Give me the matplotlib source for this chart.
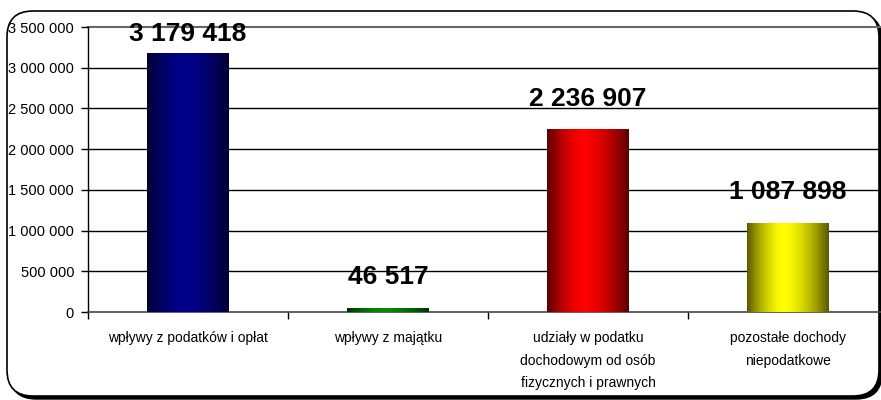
import numpy as np
import matplotlib
matplotlib.use("Agg")
import matplotlib.pyplot as plt
from matplotlib.patches import FancyBboxPatch
from matplotlib.transforms import IdentityTransform

categories = ["wpływy z podatków i opłat",
              "wpływy z majątku",
              "udziały w podatku\ndochodowym od osób\nfizycznych i prawnych",
              "pozostałe dochody\nniepodatkowe"]
values = [3179418, 46517, 2236907, 1087898]
value_labels = ["3 179 418", "46 517", "2 236 907", "1 087 898"]
yticks = [0, 500000, 1000000, 1500000, 2000000, 2500000, 3000000, 3500000]
ytick_labels = ["0", "500 000", "1 000 000", "1 500 000", "2 000 000",
                "2 500 000", "3 000 000", "3 500 000"]
bar_colors = [(0/255, 0/255, 140/255), (0/255, 140/255, 0/255),
              (255/255, 0/255, 0/255), (255/255, 255/255, 0/255)]

plt.rcParams['font.family'] = ['Liberation Sans', 'DejaVu Sans']

W, H = 881, 400
fig = plt.figure(figsize=(W / 100, H / 100), dpi=100)

# Rounded frame with shadow (figure pixel coordinates)
fx0, fy0, fx1, fy1 = 7, 4, 879, 389
r = 26
shadow = FancyBboxPatch((fx0 + 3, fy0 - 3), fx1 - fx0, fy1 - fy0,
                        boxstyle=f"round,pad=0,rounding_size={r}",
                        transform=IdentityTransform(), facecolor="black",
                        edgecolor="black", lw=1, zorder=-3)
frame = FancyBboxPatch((fx0, fy0), fx1 - fx0, fy1 - fy0,
                       boxstyle=f"round,pad=0,rounding_size={r}",
                       transform=IdentityTransform(), facecolor="white",
                       edgecolor="black", lw=1.2, zorder=-2)
fig.patches.extend([shadow, frame])

ax = fig.add_axes([88 / W, 88 / H, 800 / W, 285 / H])
ax.set_facecolor("none")
ax.set_zorder(1)

x = np.arange(len(categories))
bars = ax.bar(x, values, width=0.41, color="none", zorder=3)

# gradient fill for each bar (dark edges, bright centre)
t = np.linspace(0, 1, 200)
peak = 0.45
d = np.where(t < peak, (peak - t) / peak, (t - peak) / (1 - peak))
shade = 0.35 + 0.65 * (1 - d ** 1.6)
for b, c in zip(bars, bar_colors):
    x0, y0 = b.get_x(), b.get_y()
    w, h = b.get_width(), b.get_height()
    img = np.zeros((1, len(t), 3))
    for k in range(3):
        img[0, :, k] = c[k] * shade
    ax.imshow(img, extent=[x0, x0 + w, y0, y0 + h], aspect="auto",
              zorder=3, interpolation="bilinear")
ax.set_xlim(-0.5, 3.5)
ax.set_ylim(0, 3500000)

# gridlines
for yv in yticks[1:-1]:
    ax.axhline(yv, color="black", lw=1, zorder=1)
ax.axhline(yticks[-1], color="#666666", lw=1.5, zorder=1, clip_on=False)

for s in ["top", "right"]:
    ax.spines[s].set_visible(False)
ax.spines["left"].set_color("black")
ax.spines["left"].set_linewidth(1)
ax.spines["bottom"].set_color("#444444")
ax.spines["bottom"].set_linewidth(1.2)

ax.set_yticks(yticks)
ax.set_yticklabels(ytick_labels, fontsize=10.5)
ax.tick_params(axis="y", length=5, width=1, pad=5)

ax.set_xticks(x)
ax.set_xticklabels(categories, fontsize=10, linespacing=1.75, va="top")
ax.tick_params(axis="x", length=0, pad=14)
ax.set_xticks(np.arange(-0.5, 4, 1), minor=True)
ax.tick_params(axis="x", which="minor", length=5, width=1, direction="out")

# value labels
clamp = 3030000
for xi, v, lab in zip(x, values, value_labels):
    ypos = min(v, clamp)
    ax.annotate(lab, (xi, ypos), xytext=(0, 31), textcoords="offset pixels",
                ha="center", va="center", fontsize=19, fontweight="bold",
                zorder=5, annotation_clip=False)

fig.savefig("out.png", dpi=100)
